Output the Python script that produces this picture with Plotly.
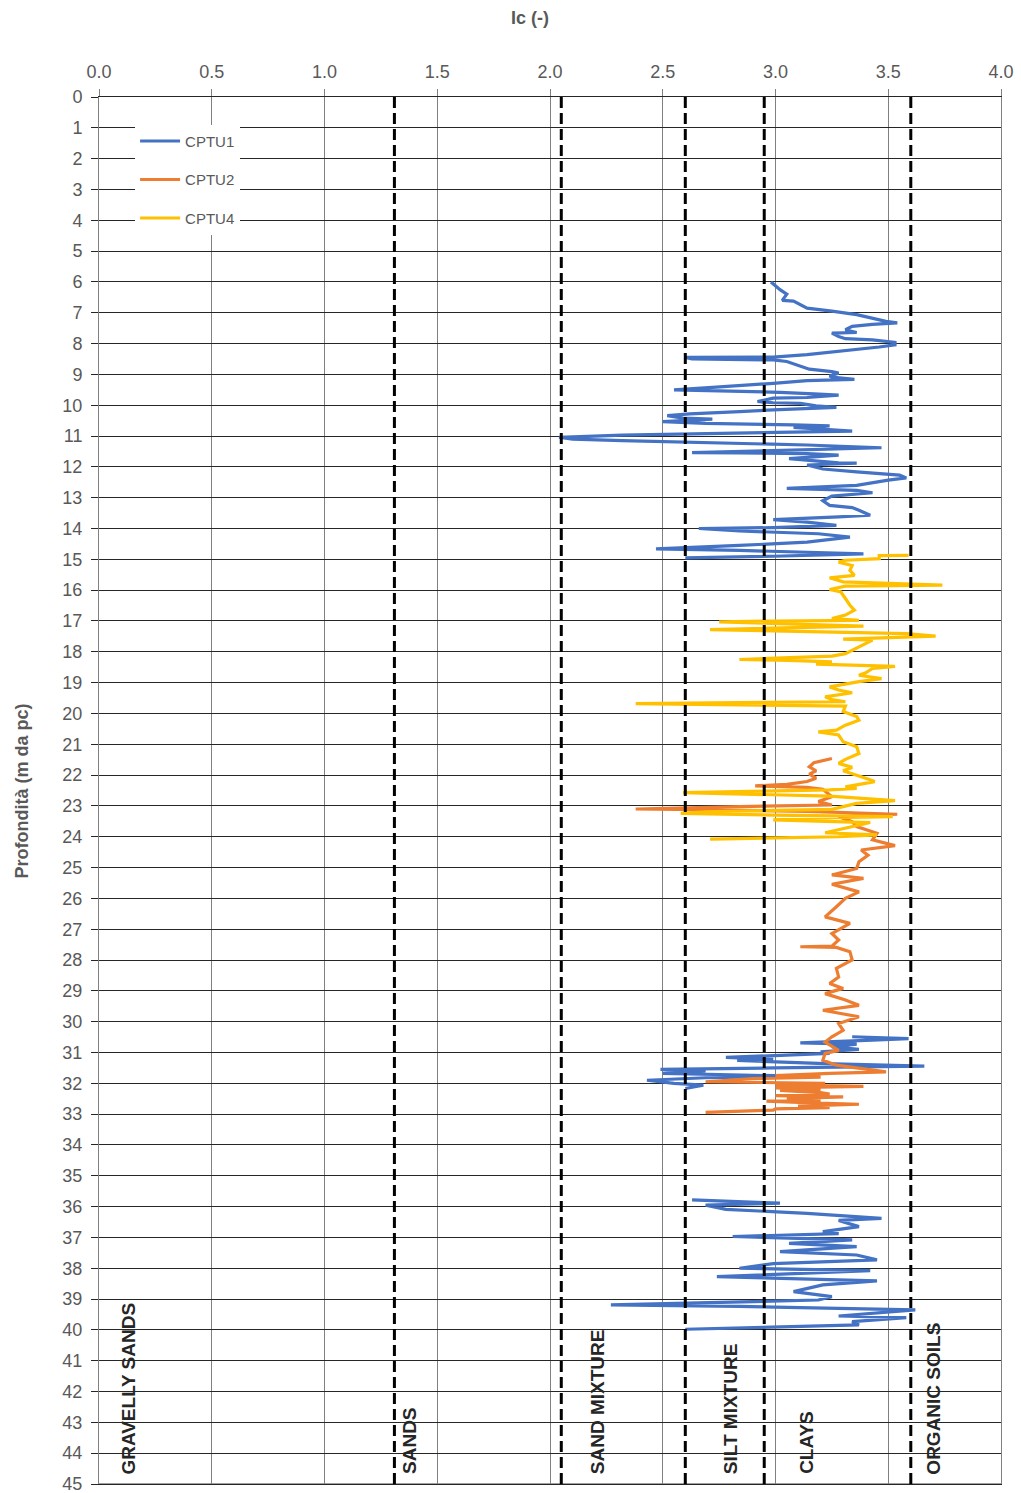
import plotly.graph_objects as go

# Soil behaviour type index Ic versus depth for three CPTU soundings.
# Each segment is a list of (depth [m], Ic [-]) readings.
CPTU1_SEG_A = [
    (6.00, 2.98), (6.25, 3.02), (6.40, 3.05), (6.60, 3.03), (6.62, 3.08), (6.85, 3.14),
    (6.95, 3.25), (7.06, 3.36), (7.28, 3.49), (7.33, 3.54), (7.38, 3.43), (7.44, 3.34),
    (7.55, 3.31), (7.64, 3.36), (7.66, 3.25), (7.77, 3.28), (7.84, 3.31), (7.88, 3.43),
    (7.96, 3.53), (8.04, 3.53), (8.11, 3.46), (8.26, 3.28), (8.36, 3.14), (8.44, 2.99),
    (8.45, 2.60), (8.50, 2.63), (8.53, 2.99), (8.58, 3.05), (8.74, 3.11), (8.83, 3.15),
    (8.91, 3.25), (8.96, 3.28), (9.05, 3.24), (9.09, 3.25), (9.16, 3.35), (9.20, 3.14),
    (9.29, 2.99), (9.34, 2.90), (9.42, 2.72), (9.50, 2.55), (9.53, 2.77), (9.58, 3.02),
    (9.63, 3.17), (9.67, 3.28), (9.75, 3.14), (9.77, 2.99), (9.88, 2.92), (9.92, 2.99),
    (9.94, 3.11), (10.02, 3.18), (10.07, 3.27), (10.10, 3.14), (10.15, 2.99), (10.21, 2.84),
    (10.28, 2.62), (10.34, 2.52), (10.42, 2.59), (10.45, 2.72), (10.53, 2.50), (10.59, 2.69),
    (10.60, 2.84), (10.64, 3.08), (10.67, 3.24), (10.72, 3.08), (10.84, 3.34), (10.88, 2.99),
    (10.91, 2.69), (10.97, 2.32), (11.04, 2.04), (11.10, 2.10), (11.15, 2.32), (11.22, 2.69),
    (11.29, 3.14), (11.38, 3.47), (11.46, 2.99), (11.54, 2.63), (11.55, 2.84), (11.57, 3.14),
    (11.62, 3.28), (11.73, 3.06), (11.87, 3.28), (11.88, 3.36), (11.94, 3.14), (12.07, 3.21),
    (12.16, 3.36), (12.27, 3.55), (12.36, 3.58), (12.43, 3.50), (12.60, 3.36), (12.70, 3.05),
    (12.76, 3.36), (12.84, 3.43), (12.95, 3.25), (13.10, 3.21), (13.25, 3.24), (13.32, 3.34),
    (13.41, 3.37), (13.57, 3.42), (13.62, 3.28), (13.71, 2.99), (13.79, 3.14), (13.90, 3.27),
    (13.97, 2.99), (14.00, 2.66), (14.08, 2.84), (14.17, 3.19), (14.28, 3.33), (14.44, 3.14),
    (14.55, 2.84), (14.66, 2.47), (14.71, 2.84), (14.76, 3.14), (14.82, 3.39), (14.90, 2.99),
    (14.95, 2.60),
]
CPTU1_SEG_B = [
    (30.49, 3.34), (30.55, 3.59), (30.60, 3.43), (30.69, 3.11), (30.73, 3.36), (30.82, 3.25),
    (30.90, 3.37), (30.98, 3.20), (31.03, 3.24), (31.10, 3.00), (31.16, 2.78), (31.22, 2.99),
    (31.26, 2.83), (31.36, 3.22), (31.44, 3.66), (31.50, 2.99), (31.55, 2.49), (31.60, 2.69),
    (31.68, 2.50), (31.77, 3.11), (31.82, 2.69), (31.90, 2.43), (32.00, 2.55), (32.06, 2.68),
    (32.17, 2.60),
]
CPTU1_SEG_C = [
    (35.78, 2.63), (35.89, 3.02), (35.95, 2.69), (36.09, 2.78), (36.22, 3.14), (36.38, 3.47),
    (36.45, 3.28), (36.65, 3.37), (36.81, 3.21), (36.88, 3.28), (36.97, 2.81), (37.08, 3.34),
    (37.19, 3.06), (37.30, 3.36), (37.46, 3.02), (37.57, 3.36), (37.73, 3.45), (37.85, 2.99),
    (38.00, 2.84), (38.08, 3.42), (38.27, 2.74), (38.41, 3.45), (38.54, 3.21), (38.76, 3.08),
    (38.92, 3.25), (39.03, 3.19), (39.19, 2.27), (39.24, 2.84), (39.35, 3.62), (39.55, 3.28),
    (39.60, 3.58), (39.73, 3.34), (39.84, 3.37), (39.98, 2.60),
]
CPTU2_DATA = [
    (21.46, 3.25), (21.60, 3.17), (21.73, 3.15), (21.86, 3.18), (21.97, 3.15), (22.10, 3.18),
    (22.21, 3.14), (22.30, 3.05), (22.35, 2.91), (22.40, 3.14), (22.46, 3.21), (22.70, 3.25),
    (22.86, 3.19), (22.97, 3.25), (23.02, 2.84), (23.10, 2.38), (23.14, 2.84), (23.18, 3.14),
    (23.27, 3.54), (23.35, 3.28), (23.51, 3.34), (23.67, 3.36), (23.89, 3.45), (24.10, 3.43),
    (24.29, 3.53), (24.43, 3.38), (24.60, 3.41), (24.81, 3.37), (25.03, 3.36), (25.24, 3.25),
    (25.35, 3.39), (25.54, 3.25), (25.79, 3.37), (26.00, 3.31), (26.27, 3.27), (26.60, 3.22),
    (26.81, 3.33), (27.14, 3.25), (27.35, 3.28), (27.55, 3.25), (27.57, 3.11), (27.59, 3.27),
    (27.73, 3.33), (28.00, 3.34), (28.27, 3.27), (28.55, 3.28), (28.76, 3.24), (28.92, 3.30),
    (29.09, 3.22), (29.30, 3.31), (29.47, 3.37), (29.63, 3.21), (29.84, 3.37), (30.06, 3.28),
    (30.28, 3.30), (30.49, 3.25), (30.66, 3.22), (30.93, 3.28), (31.03, 3.22), (31.25, 3.21),
    (31.41, 3.27), (31.63, 3.49), (31.68, 3.24), (31.75, 3.00), (31.80, 3.20), (31.85, 2.90),
    (31.95, 2.69), (32.00, 3.22), (32.05, 3.00), (32.10, 3.39), (32.15, 3.00), (32.20, 3.20),
    (32.23, 3.02), (32.30, 3.20), (32.35, 3.24), (32.40, 3.00), (32.44, 3.30), (32.50, 3.05),
    (32.55, 3.20), (32.58, 2.96), (32.64, 3.19), (32.68, 3.37), (32.74, 3.10), (32.79, 3.24),
    (32.83, 3.00), (32.87, 2.99), (32.94, 2.69),
]
CPTU4_DATA = [
    (14.87, 3.59), (14.88, 3.46), (14.98, 3.46), (15.03, 3.31), (15.09, 3.28), (15.20, 3.34),
    (15.36, 3.33), (15.52, 3.35), (15.60, 3.24), (15.73, 3.30), (15.84, 3.74), (15.87, 3.31),
    (15.98, 3.24), (16.06, 3.29), (16.27, 3.31), (16.49, 3.33), (16.65, 3.35), (16.81, 3.31),
    (16.92, 3.25), (16.98, 3.37), (17.00, 2.99), (17.03, 2.75), (17.17, 3.39), (17.22, 2.99),
    (17.28, 2.71), (17.32, 2.99), (17.41, 3.58), (17.49, 3.71), (17.54, 3.50), (17.59, 3.30),
    (17.62, 3.43), (17.84, 3.37), (18.06, 3.31), (18.14, 3.25), (18.25, 2.84), (18.28, 3.06),
    (18.33, 3.25), (18.40, 3.18), (18.47, 3.53), (18.54, 3.43), (18.68, 3.40), (18.76, 3.37),
    (18.87, 3.47), (18.97, 3.37), (19.14, 3.24), (19.24, 3.28), (19.33, 3.34), (19.46, 3.22),
    (19.55, 3.25), (19.62, 3.31), (19.65, 2.84), (19.68, 2.38), (19.72, 2.84), (19.76, 3.31),
    (19.94, 3.30), (20.10, 3.36), (20.22, 3.37), (20.38, 3.31), (20.54, 3.27), (20.60, 3.19),
    (20.70, 3.28), (20.92, 3.30), (21.08, 3.36), (21.30, 3.37), (21.49, 3.31), (21.62, 3.28),
    (21.75, 3.34), (21.86, 3.30), (22.10, 3.40), (22.21, 3.44), (22.38, 3.31), (22.43, 3.36),
    (22.48, 3.24), (22.57, 2.59), (22.68, 3.24), (22.83, 3.53), (22.92, 3.36), (23.11, 3.25),
    (23.19, 2.69), (23.24, 2.58), (23.30, 2.99), (23.35, 3.52), (23.40, 3.14), (23.45, 2.99),
    (23.54, 3.42), (23.87, 3.22), (23.94, 3.45), (24.00, 3.28), (24.08, 2.71),
]

SERIES_NAMES = ["CPTU1", "CPTU2", "CPTU4"]
SERIES_COLORS = ["#4472C4", "#ED7D31", "#FFC000"]

# Ic class boundaries and soil-type labels
BOUNDARIES = [1.31, 2.05, 2.60, 2.95, 3.60]
ZONE_LABELS = ["GRAVELLY SANDS", "SANDS", "SAND MIXTURE", "SILT MIXTURE", "CLAYS", "ORGANIC SOILS"]
ZONE_LABEL_IC = [0.13, 1.38, 2.21, 2.80, 3.14, 3.70]

DEPTH_TICKS = list(range(0, 46))
IC_TICKS = [0.0, 0.5, 1.0, 1.5, 2.0, 2.5, 3.0, 3.5, 4.0]


def join_segments(*segments):
    depth, ic = [], []
    for k, seg in enumerate(segments):
        if k:
            depth.append(None)
            ic.append(None)
        for d, v in seg:
            depth.append(d)
            ic.append(v)
    return depth, ic


series = [
    join_segments(CPTU1_SEG_A, CPTU1_SEG_B, CPTU1_SEG_C),
    join_segments(CPTU2_DATA),
    join_segments(CPTU4_DATA),
]

GRAY = "#595959"
FONT = "Liberation Sans, Arial, sans-serif"

fig = go.Figure()
for name, color, (depth, ic) in zip(SERIES_NAMES, SERIES_COLORS, series):
    fig.add_trace(go.Scatter(
        x=ic, y=depth, mode="lines", name=name, legendgroup=name,
        line=dict(color=color, width=3.2), connectgaps=False,
    ))

for b in BOUNDARIES:
    fig.add_shape(type="line", xref="x", yref="y", x0=b, x1=b, y0=0, y1=45,
                  line=dict(color="black", width=3, dash="11px,5px"), layer="above")

# frame line along the bottom of the plot (depth 45 m)
fig.add_shape(type="line", xref="x", yref="y", x0=0, x1=4, y0=45, y1=45,
              line=dict(color="#808080", width=1.5), layer="below")

for label, xpos in zip(ZONE_LABELS, ZONE_LABEL_IC):
    fig.add_annotation(x=xpos, y=44.75, xref="x", yref="y", text=label, showarrow=False,
                       textangle=-90, xanchor="center", yanchor="bottom",
                       font=dict(family=FONT, size=19, color="#262626", weight="bold"))

fig.add_annotation(x=0.4778, y=1.057, xref="paper", yref="paper", text="Ic (-)",
                   showarrow=False, xanchor="center", yanchor="middle",
                   font=dict(family=FONT, size=18, color=GRAY, weight="bold"))
fig.add_annotation(x=-0.0854, y=0.5, xref="paper", yref="paper", text="Profondità (m da pc)",
                   showarrow=False, textangle=-90, xanchor="center", yanchor="middle",
                   font=dict(family=FONT, size=18, color=GRAY, weight="bold"))

fig.update_layout(
    width=1021, height=1493,
    margin=dict(l=99, r=20, t=97, b=9, autoexpand=False),
    paper_bgcolor="white", plot_bgcolor="white",
    font=dict(family=FONT, color=GRAY),
    showlegend=True,
    legend=dict(x=0.04, y=0.98, xanchor="left", yanchor="top", bgcolor="white",
                font=dict(size=15, color=GRAY), tracegroupgap=16, itemwidth=40),
    xaxis=dict(range=[0, 4], side="top", tickvals=IC_TICKS,
               ticktext=[f"{v:.1f}" for v in IC_TICKS],
               showgrid=True, gridcolor="#808080", gridwidth=1,
               ticks="outside", ticklen=7, tickcolor="#808080",
               ticklabelstandoff=4, ticklabeloverflow="allow", automargin=False,
               showline=True, linecolor="#262626", linewidth=1, mirror=True,
               zeroline=False, tickfont=dict(size=18, color=GRAY)),
    yaxis=dict(range=[45, 0], tickvals=DEPTH_TICKS,
               showgrid=True, gridcolor="#262626", gridwidth=1,
               ticks="outside", ticklen=7, tickcolor="#262626",
               ticklabelstandoff=5, ticklabeloverflow="allow", automargin=False,
               showline=True, linecolor="#808080", linewidth=1, mirror=True,
               zeroline=False, tickfont=dict(size=18, color=GRAY)),
)

fig.write_html("out.html")
